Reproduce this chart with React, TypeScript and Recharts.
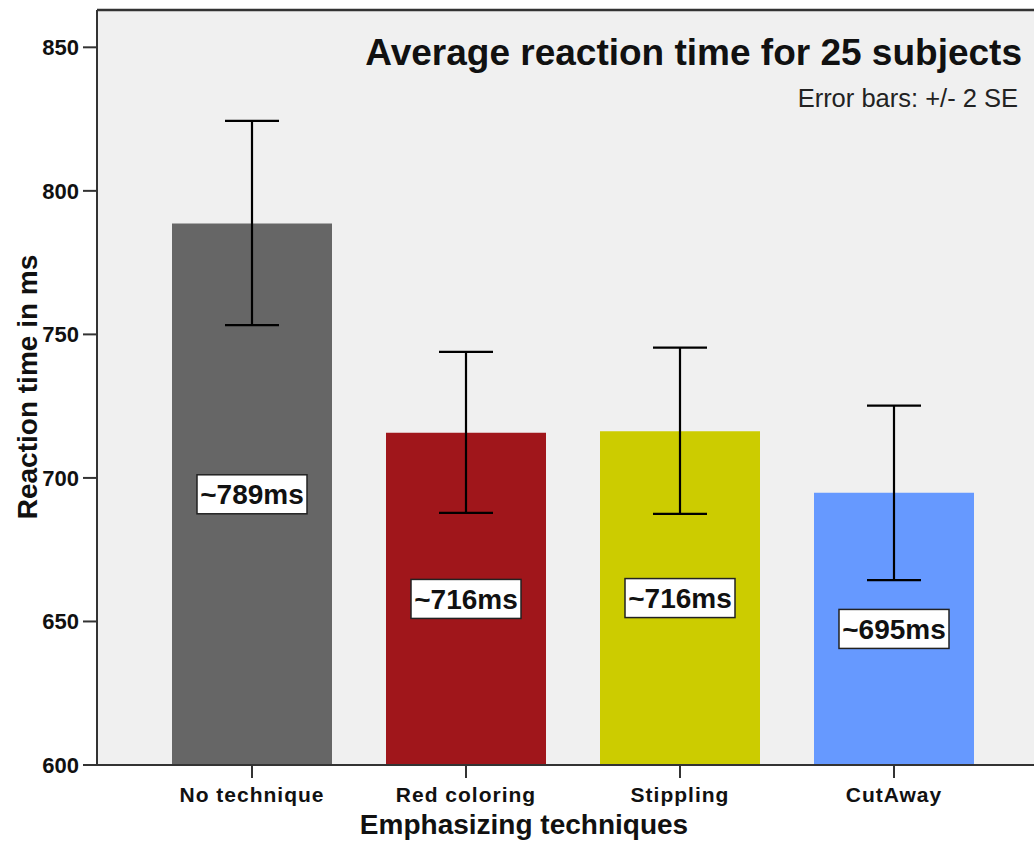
import React from 'react';
import { BarChart, Bar, XAxis, YAxis, CartesianGrid, ErrorBar, LabelList, ReferenceLine, Cell } from 'recharts';

const categories = ['No technique', 'Red coloring', 'Stippling', 'CutAway'];
const means = [788.6, 715.7, 716.3, 694.8];
const upperBounds = [824.4, 743.9, 745.4, 725.2];
const lowerBounds = [753.2, 687.8, 687.5, 664.4];
const barLabels = ['~789ms', '~716ms', '~716ms', '~695ms'];
const barColors = ['#666666', '#a0161b', '#cccc00', '#6699ff'];
const yTicks = [600, 650, 700, 750, 800, 850];
const yDomain = [600, 863];

const data = categories.map((name, i) => ({
  name,
  mean: means[i],
  err: [means[i] - lowerBounds[i], upperBounds[i] - means[i]],
  label: barLabels[i],
}));

const FONT = '"Liberation Sans", Arial, Helvetica, sans-serif';
const W = 1034;
const H = 841;

const XTick = (props: any) => {
  const { x, y, payload } = props;
  return (
    <text x={x} y={y} dy={16} textAnchor="middle" fontFamily={FONT} fontWeight="bold" fontSize={21} letterSpacing={1} fill="#111">
      {payload.value}
    </text>
  );
};

const YTick = (props: any) => {
  const { x, y, payload } = props;
  return (
    <text x={x} y={y} dy={8} textAnchor="end" fontFamily={FONT} fontWeight="bold" fontSize={22} fill="#111">
      {payload.value}
    </text>
  );
};

const BoxLabel = (props: any) => {
  const { x, y, width, height, value } = props;
  const cx = x + width / 2;
  const cy = y + height / 2;
  const bw = 110;
  const bh = 39;
  return (
    <g>
      <rect x={cx - bw / 2} y={cy - bh / 2} width={bw} height={bh} fill="#ffffff" stroke="#222" strokeWidth={1.5} />
      <text x={cx} y={cy} dy={10} textAnchor="middle" fontFamily={FONT} fontWeight="bold" fontSize={28} fill="#111">
        {value}
      </text>
    </g>
  );
};

export default function App() {
  return (
    <div style={{ position: 'absolute', left: 0, top: 0, width: W, height: H, background: '#fff', overflow: 'hidden' }}>
      <BarChart width={W} height={H} data={data} margin={{ top: 10, right: 0, bottom: 0, left: 0 }} barSize={160}>
        <CartesianGrid fill="#f0f0f0" horizontal={false} vertical={false} />
        <XAxis
          dataKey="name"
          height={76}
          padding={{ left: 48, right: 33 }}
          tickSize={13}
          tickMargin={8}
          stroke="#333"
          strokeWidth={2}
          tick={<XTick />}
          interval={0}
        />
        <YAxis
          width={97}
          domain={yDomain}
          ticks={yTicks}
          allowDataOverflow
          tickSize={14}
          tickMargin={4}
          stroke="#333"
          strokeWidth={2}
          tick={<YTick />}
        />
        <ReferenceLine y={yDomain[1]} stroke="#333" strokeWidth={2.5} />
        <Bar dataKey="mean" isAnimationActive={false}>
          {data.map((d, i) => (
            <Cell key={d.name} fill={barColors[i]} />
          ))}
          <ErrorBar dataKey="err" width={27} stroke="#000" strokeWidth={2.2} />
          <LabelList dataKey="label" content={<BoxLabel />} />
        </Bar>
      </BarChart>
      <svg width={W} height={H} style={{ position: 'absolute', left: 0, top: 0, pointerEvents: 'none' }}>
        <text x={1022} y={65} textAnchor="end" fontFamily={FONT} fontWeight="bold" fontSize={37} fill="#111">
          Average reaction time for 25 subjects
        </text>
        <text x={1018} y={107} textAnchor="end" fontFamily={FONT} fontSize={25.5} fill="#222">
          Error bars: +/- 2 SE
        </text>
        <text x={0} y={0} transform="translate(37,387) rotate(-90)" textAnchor="middle" fontFamily={FONT} fontWeight="bold" fontSize={28} fill="#111">
          Reaction time in ms
        </text>
        <text x={524} y={834} textAnchor="middle" fontFamily={FONT} fontWeight="bold" fontSize={28} fill="#111">
          Emphasizing techniques
        </text>
      </svg>
    </div>
  );
}
